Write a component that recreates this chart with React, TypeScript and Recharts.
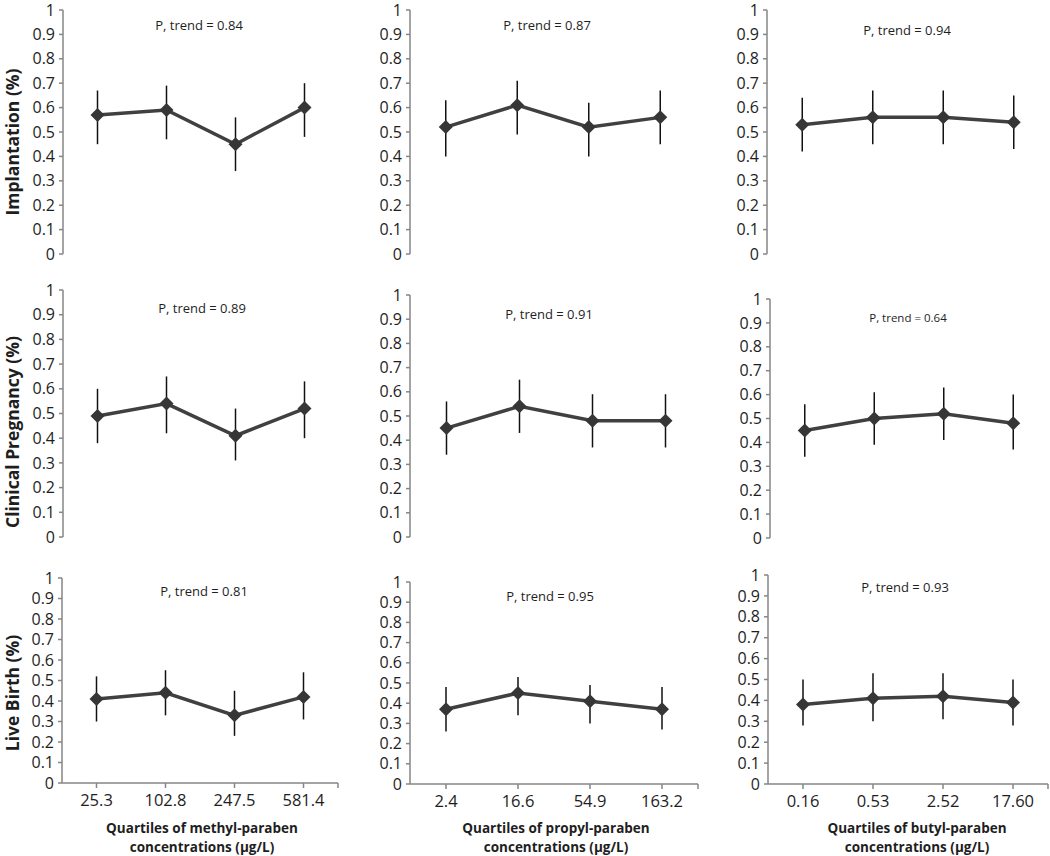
import React from 'react';
import { ErrorBar, Line, LineChart, XAxis, YAxis } from 'recharts';

// quartile tick labels
const methylQuartiles = ['25.3', '102.8', '247.5', '581.4'];
const propylQuartiles = ['2.4', '16.6', '54.9', '163.2'];
const butylQuartiles = ['0.16', '0.53', '2.52', '17.60'];

// implantation
const implMethyl = [0.57, 0.59, 0.45, 0.6];
const implMethylLo = [0.45, 0.47, 0.34, 0.48];
const implMethylHi = [0.67, 0.69, 0.56, 0.7];
const implPropyl = [0.52, 0.61, 0.52, 0.56];
const implPropylLo = [0.4, 0.49, 0.4, 0.45];
const implPropylHi = [0.63, 0.71, 0.62, 0.67];
const implButyl = [0.53, 0.56, 0.56, 0.54];
const implButylLo = [0.42, 0.45, 0.45, 0.43];
const implButylHi = [0.64, 0.67, 0.67, 0.65];

// clinical pregnancy
const pregMethyl = [0.49, 0.54, 0.41, 0.52];
const pregMethylLo = [0.38, 0.42, 0.31, 0.4];
const pregMethylHi = [0.6, 0.65, 0.52, 0.63];
const pregPropyl = [0.45, 0.54, 0.48, 0.48];
const pregPropylLo = [0.34, 0.43, 0.37, 0.37];
const pregPropylHi = [0.56, 0.65, 0.59, 0.59];
const pregButyl = [0.45, 0.5, 0.52, 0.48];
const pregButylLo = [0.34, 0.39, 0.41, 0.37];
const pregButylHi = [0.56, 0.61, 0.63, 0.6];

// live birth
const birthMethyl = [0.41, 0.44, 0.33, 0.42];
const birthMethylLo = [0.3, 0.33, 0.23, 0.31];
const birthMethylHi = [0.52, 0.55, 0.45, 0.54];
const birthPropyl = [0.37, 0.45, 0.41, 0.37];
const birthPropylLo = [0.26, 0.34, 0.3, 0.27];
const birthPropylHi = [0.48, 0.53, 0.49, 0.48];
const birthButyl = [0.38, 0.41, 0.42, 0.39];
const birthButylLo = [0.28, 0.3, 0.31, 0.28];
const birthButylHi = [0.5, 0.53, 0.53, 0.5];

const trendP = ['0.84', '0.87', '0.94', '0.89', '0.91', '0.64', '0.81', '0.95', '0.93'];
const rowTitles = ['Implantation (%)', 'Clinical Pregnancy (%)', 'Live Birth (%)'];
const colTitles = ['methyl', 'propyl', 'butyl'];
const yTicks = [0, 0.1, 0.2, 0.3, 0.4, 0.5, 0.6, 0.7, 0.8, 0.9, 1];

const series = [
  [implMethyl, implMethylLo, implMethylHi, methylQuartiles],
  [implPropyl, implPropylLo, implPropylHi, propylQuartiles],
  [implButyl, implButylLo, implButylHi, butylQuartiles],
  [pregMethyl, pregMethylLo, pregMethylHi, methylQuartiles],
  [pregPropyl, pregPropylLo, pregPropylHi, propylQuartiles],
  [pregButyl, pregButylLo, pregButylHi, butylQuartiles],
  [birthMethyl, birthMethylLo, birthMethylHi, methylQuartiles],
  [birthPropyl, birthPropylLo, birthPropylHi, propylQuartiles],
  [birthButyl, birthButylLo, birthButylHi, butylQuartiles],
] as const;

// layout: y-axis x, y of 1, y of 0, category width, p-label centre
const layout = [
  { ax: 63, top: 10, bottom: 254, band: 69, px: 199, py: 25, pf: 13 },
  { ax: 410, top: 10, bottom: 254, band: 71.5, px: 547, py: 25, pf: 13 },
  { ax: 767, top: 10, bottom: 254, band: 70.5, px: 907, py: 30, pf: 13 },
  { ax: 63, top: 290, bottom: 537, band: 69, px: 202, py: 308, pf: 13 },
  { ax: 410, top: 295, bottom: 537, band: 73, px: 549, py: 314, pf: 13 },
  { ax: 770, top: 299, bottom: 538, band: 69.5, px: 908, py: 317, pf: 11.5 },
  { ax: 62, top: 578, bottom: 783, band: 69, px: 204, py: 591, pf: 13 },
  { ax: 410, top: 582, bottom: 784, band: 72, px: 550, py: 596, pf: 13 },
  { ax: 768, top: 575, bottom: 784, band: 70, px: 905, py: 587, pf: 13 },
];
const rowTitleY = [142, 432, 693];
const colTitleX = [202, 556, 917];

const FONT = '"Open Sans", sans-serif';
const AXIS = '#868686';
const YW = 56;
const MT = 14;

const Diamond = (props: any) => {
  const { cx, cy } = props;
  if (cx == null || cy == null) return null;
  const r = 7;
  return (
    <path
      d={`M${cx},${cy - r}L${cx + r},${cy}L${cx},${cy + r}L${cx - r},${cy}Z`}
      fill="#363636"
    />
  );
};

const fmtY = (v: number) => String(Number(v.toFixed(1)));

const Panel = ({ idx }: { idx: number }) => {
  const [mean, lo, hi, cats] = series[idx];
  const g = layout[idx];
  const bottomRow = idx >= 6;
  const plotH = g.bottom - g.top;
  const plotW = g.band * 4;
  const width = YW + plotW + 4;
  const height = MT + plotH + (bottomRow ? 34 : 12);
  const data = mean.map((v, i) => ({ x: i + 0.5, v, err: [v - lo[i], hi[i] - v] }));
  return (
    <div style={{ position: 'absolute', left: g.ax - YW, top: g.top - MT }}>
      <LineChart
        width={width}
        height={height}
        data={data}
        margin={{ top: MT, right: 4, bottom: bottomRow ? 0 : 12, left: 0 }}
      >
        <XAxis
          type="number"
          dataKey="x"
          domain={[0, 4]}
          ticks={[0.5, 1.5, 2.5, 3.5, 4]}
          tickFormatter={(v: number) => (v < 4 ? cats[Math.floor(v)] : '')}
          hide={!bottomRow}
          height={34}
          axisLine={{ stroke: AXIS, strokeWidth: 1.5 }}
          tickLine={{ stroke: AXIS, strokeWidth: 1.5 }}
          tickSize={5}
          tickMargin={6}
          tick={{ fill: '#1e1e1e', fontSize: 16.5, fontFamily: FONT }}
          interval={0}
        />
        <YAxis
          type="number"
          domain={[0, 1]}
          ticks={yTicks}
          tickFormatter={fmtY}
          width={YW}
          interval={0}
          axisLine={{ stroke: AXIS, strokeWidth: 1.5 }}
          tickLine={{ stroke: AXIS, strokeWidth: 1.5 }}
          tickSize={4}
          tickMargin={4}
          tick={{ fill: '#1e1e1e', fontSize: 16, fontFamily: FONT }}
        />
        <Line
          type="linear"
          dataKey="v"
          stroke="#404040"
          strokeWidth={3.5}
          dot={<Diamond />}
          activeDot={false}
          isAnimationActive={false}
        >
          <ErrorBar dataKey="err" direction="y" width={0} stroke="#111" strokeWidth={1.5} />
        </Line>
      </LineChart>
    </div>
  );
};

export default function App() {
  return (
    <div
      style={{
        position: 'absolute',
        left: 0,
        top: 0,
        width: 1050,
        height: 856,
        background: '#fff',
        fontFamily: FONT,
        color: '#1e1e1e',
      }}
    >
      {layout.map((g, i) => (
        <Panel key={i} idx={i} />
      ))}
      {layout.map((g, i) => (
        <div
          key={'p' + i}
          style={{
            position: 'absolute',
            left: g.px,
            top: g.py,
            transform: 'translate(-50%, -50%)',
            fontSize: g.pf,
            whiteSpace: 'nowrap',
          }}
        >
          P, trend = {trendP[i]}
        </div>
      ))}
      {rowTitles.map((t, i) => (
        <div
          key={'r' + i}
          style={{
            position: 'absolute',
            left: 12,
            top: rowTitleY[i],
            transform: 'translate(-50%, -50%) rotate(-90deg)',
            fontSize: 17.5,
            fontWeight: 700,
            whiteSpace: 'nowrap',
          }}
        >
          {t}
        </div>
      ))}
      {colTitles.map((t, i) => (
        <div
          key={'c' + i}
          style={{
            position: 'absolute',
            left: colTitleX[i],
            top: 838,
            transform: 'translate(-50%, -50%)',
            fontSize: 13.5,
            fontWeight: 700,
            textAlign: 'center',
            lineHeight: '19px',
            whiteSpace: 'nowrap',
          }}
        >
          Quartiles of {t}-paraben
          <br />
          concentrations (µg/L)
        </div>
      ))}
    </div>
  );
}
